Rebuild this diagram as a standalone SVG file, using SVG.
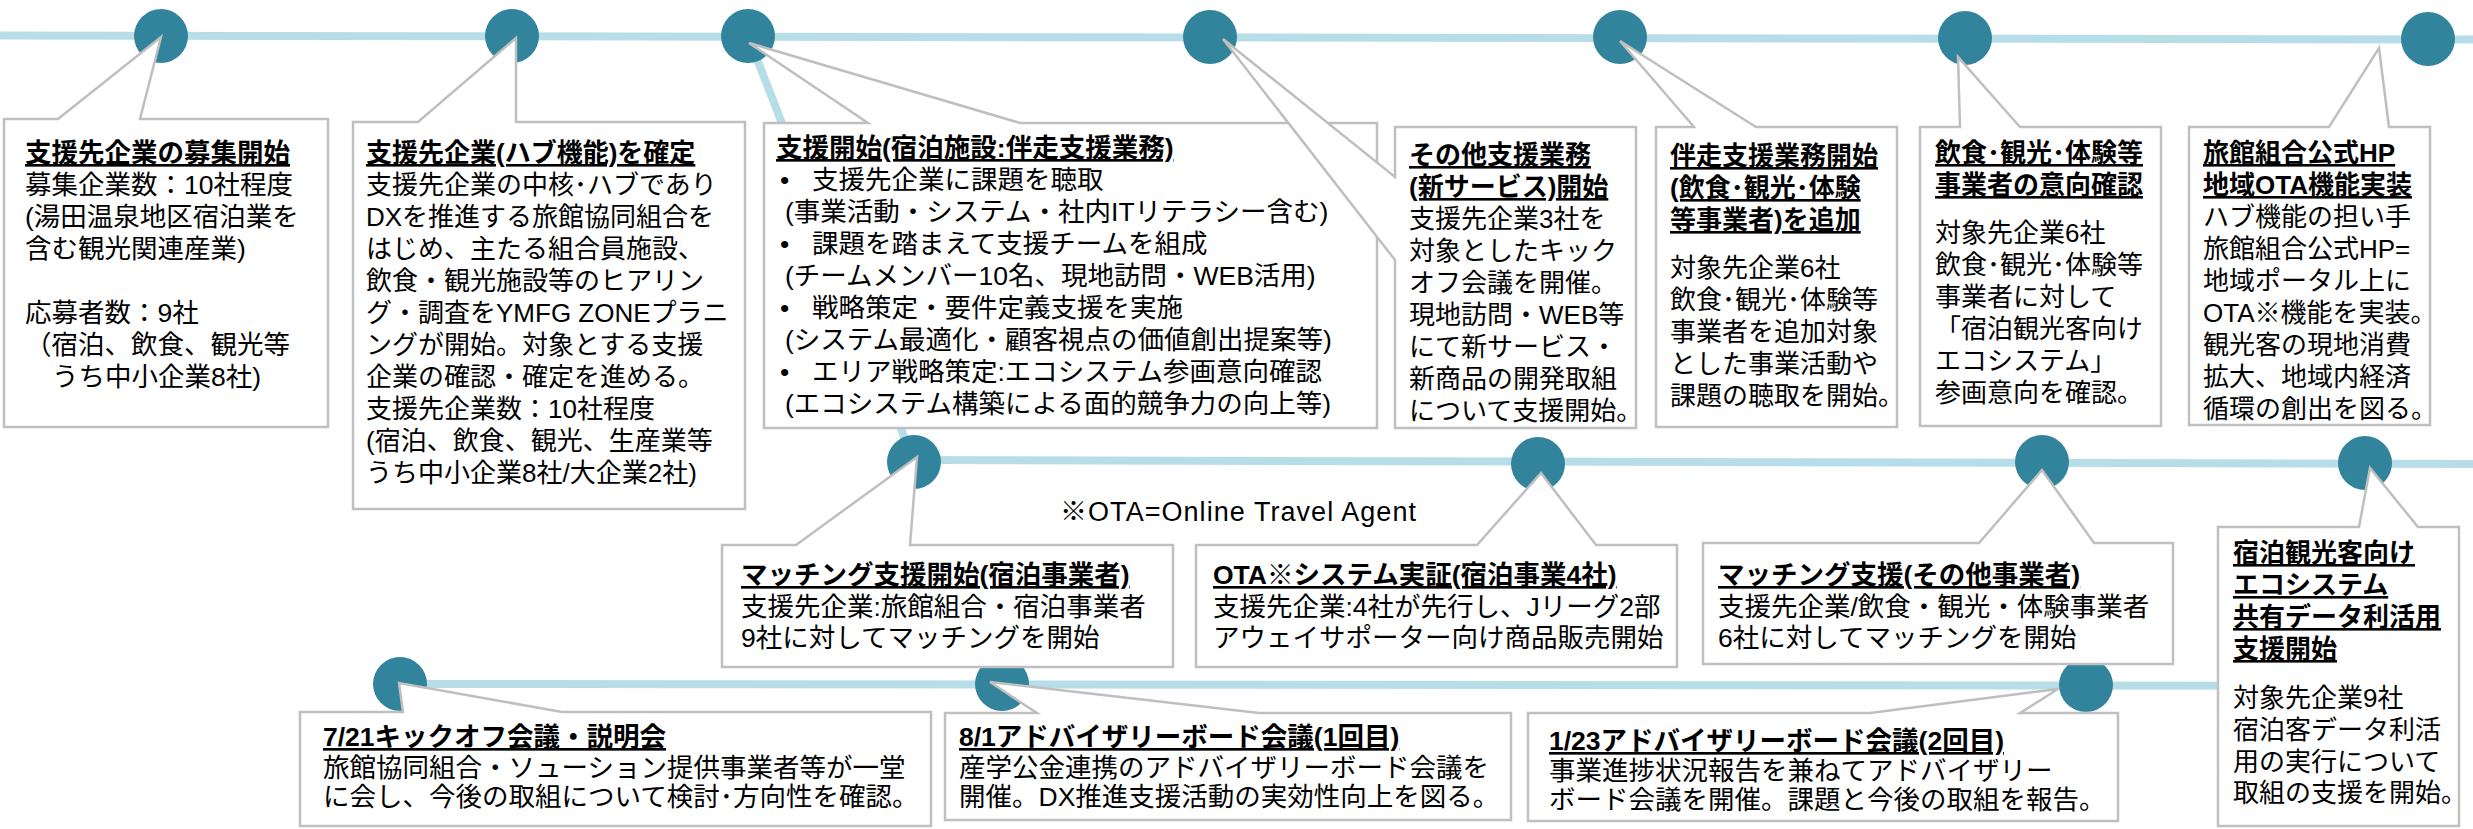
<svg xmlns="http://www.w3.org/2000/svg" width="2473" height="829" viewBox="0 0 2473 829">
<style>
.ln{stroke:#B7DEE8;stroke-width:8;fill:none}
.dot{fill:#31849B}
.co{fill:#FFFFFF;stroke:#BFBFBF;stroke-width:2.5;stroke-linejoin:miter}
text{font-family:"Liberation Sans","Noto Sans CJK JP",sans-serif;font-size:26px;fill:#000}
.big{font-size:26.5px}
.h{font-weight:700;text-decoration:underline}
</style>
<rect width="2473" height="829" fill="#FFFFFF"/>
<g id="connectors">
<line class="ln" x1="0" y1="35.5" x2="2473" y2="39.5"/>
<line class="ln" x1="748" y1="36" x2="914" y2="462"/>
<line class="ln" x1="914" y1="460" x2="2473" y2="464"/>
<line class="ln" x1="400" y1="684" x2="2459" y2="686"/>
</g>
<g id="milestones">
<circle class="dot" cx="161" cy="36" r="27"/>
<circle class="dot" cx="512" cy="36" r="27"/>
<circle class="dot" cx="748" cy="36" r="27"/>
<circle class="dot" cx="1210" cy="37" r="27"/>
<circle class="dot" cx="1620" cy="37" r="27"/>
<circle class="dot" cx="1965" cy="38" r="27"/>
<circle class="dot" cx="2428" cy="39" r="27"/>
<circle class="dot" cx="914" cy="462" r="27"/>
<circle class="dot" cx="1538" cy="464" r="27"/>
<circle class="dot" cx="2042" cy="462" r="27"/>
<circle class="dot" cx="2365" cy="463" r="27"/>
<circle class="dot" cx="400" cy="684" r="27"/>
<circle class="dot" cx="1002" cy="684" r="27"/>
<circle class="dot" cx="2086" cy="685" r="27"/>
</g>
<g id="n1">
<path class="co" d="M4,119 H58 L161,37 L140,119 H328 V427 H4 Z"/>
<text class="big"><tspan x="25" y="162" class="h">支援先企業の募集開始</tspan><tspan x="25" y="194">募集企業数：10社程度</tspan><tspan x="25" y="226">(湯田温泉地区宿泊業を</tspan><tspan x="25" y="258">含む観光関連産業)</tspan><tspan x="25" y="322">応募者数：9社</tspan><tspan x="25" y="354">（宿泊、飲食、観光等</tspan><tspan x="52" y="386">うち中小企業8社)</tspan></text>
</g>
<g id="n2">
<path class="co" d="M353,122 H418 L516,38 L516,122 H745 V509 H353 Z"/>
<text><tspan x="366" y="162" class="h">支援先企業(ハブ機能)を確定</tspan><tspan x="366" y="194">支援先企業の中核･ハブであり</tspan><tspan x="366" y="226">DXを推進する旅館協同組合を</tspan><tspan x="366" y="258">はじめ、主たる組合員施設、</tspan><tspan x="366" y="290">飲食・観光施設等のヒアリン</tspan><tspan x="366" y="322">グ・調査をYMFG ZONEプラニ</tspan><tspan x="366" y="354">ングが開始。対象とする支援</tspan><tspan x="366" y="386">企業の確認・確定を進める。</tspan><tspan x="366" y="418">支援先企業数：10社程度</tspan><tspan x="366" y="450">(宿泊、飲食、観光、生産業等</tspan><tspan x="366" y="482">うち中小企業8社/大企業2社)</tspan></text>
</g>
<g id="n3">
<path class="co" d="M764,123 H868 L749,43 L1020,123 H1377 V428 H764 Z"/>
<text class="big"><tspan x="776" y="157" class="h">支援開始(宿泊施設:伴走支援業務)</tspan><tspan x="780" y="189">•</tspan><tspan x="812" y="189">支援先企業に課題を聴取</tspan><tspan x="785" y="221">(事業活動・システム・社内ITリテラシー含む)</tspan><tspan x="780" y="253">•</tspan><tspan x="812" y="253">課題を踏まえて支援チームを組成</tspan><tspan x="785" y="285">(チームメンバー10名、現地訪問・WEB活用)</tspan><tspan x="780" y="317">•</tspan><tspan x="812" y="317">戦略策定・要件定義支援を実施</tspan><tspan x="785" y="349">(システム最適化・顧客視点の価値創出提案等)</tspan><tspan x="780" y="381">•</tspan><tspan x="812" y="381">エリア戦略策定:エコシステム参画意向確認</tspan><tspan x="785" y="413">(エコシステム構築による面的競争力の向上等)</tspan></text>
</g>
<g id="n4">
<path class="co" d="M1395,127 H1636 V428 H1395 V260 L1223,39 L1395,177 Z"/>
<text><tspan x="1409" y="164" class="h">その他支援業務</tspan><tspan x="1409" y="196" class="h">(新サービス)開始</tspan><tspan x="1409" y="228">支援先企業3社を</tspan><tspan x="1409" y="260">対象としたキック</tspan><tspan x="1409" y="292">オフ会議を開催。</tspan><tspan x="1409" y="324">現地訪問・WEB等</tspan><tspan x="1409" y="356">にて新サービス・</tspan><tspan x="1409" y="388">新商品の開発取組</tspan><tspan x="1409" y="420">について支援開始。</tspan></text>
</g>
<g id="n5">
<path class="co" d="M1656,127 H1694 L1620,41 L1756,127 H1897 V427 H1656 Z"/>
<text><tspan x="1670" y="165" class="h">伴走支援業務開始</tspan><tspan x="1670" y="197" class="h">(飲食･観光･体験</tspan><tspan x="1670" y="229" class="h">等事業者)を追加</tspan><tspan x="1670" y="277">対象先企業6社</tspan><tspan x="1670" y="309">飲食･観光･体験等</tspan><tspan x="1670" y="341">事業者を追加対象</tspan><tspan x="1670" y="373">とした事業活動や</tspan><tspan x="1670" y="405">課題の聴取を開始。</tspan></text>
</g>
<g id="n6">
<path class="co" d="M1920,127 H1960 L1958,57 L2020,127 H2161 V426 H1920 Z"/>
<text><tspan x="1935" y="162" class="h">飲食･観光･体験等</tspan><tspan x="1935" y="194" class="h">事業者の意向確認</tspan><tspan x="1935" y="242">対象先企業6社</tspan><tspan x="1935" y="274">飲食･観光･体験等</tspan><tspan x="1935" y="306">事業者に対して</tspan><tspan x="1935" y="338">「宿泊観光客向け</tspan><tspan x="1935" y="370">エコシステム」</tspan><tspan x="1935" y="402">参画意向を確認。</tspan></text>
</g>
<g id="n7">
<path class="co" d="M2189,127 H2329 L2379,48 L2389,127 H2430 V425 H2189 Z"/>
<text><tspan x="2203" y="162" class="h">旅館組合公式HP</tspan><tspan x="2203" y="194" class="h">地域OTA機能実装</tspan><tspan x="2203" y="226">ハブ機能の担い手</tspan><tspan x="2203" y="258">旅館組合公式HP=</tspan><tspan x="2203" y="290">地域ポータル上に</tspan><tspan x="2203" y="322">OTA※機能を実装。</tspan><tspan x="2203" y="354">観光客の現地消費</tspan><tspan x="2203" y="386">拡大、地域内経済</tspan><tspan x="2203" y="418">循環の創出を図る。</tspan></text>
</g>
<g id="n8">
<path class="co" d="M722,545 H796 L917,457 L910,545 H1173 V667 H722 Z"/>
<text class="big"><tspan x="741" y="584" class="h">マッチング支援開始(宿泊事業者)</tspan><tspan x="741" y="616">支援先企業:旅館組合・宿泊事業者</tspan><tspan x="741" y="647">9社に対してマッチングを開始</tspan></text>
</g>
<g id="n9">
<path class="co" d="M1196,545 H1477 L1541,473 L1596,545 H1677 V667 H1196 Z"/>
<text class="big"><tspan x="1213" y="584" class="h">OTA※システム実証(宿泊事業4社)</tspan><tspan x="1213" y="616">支援先企業:4社が先行し、Jリーグ2部</tspan><tspan x="1213" y="647">アウェイサポーター向け商品販売開始</tspan></text>
</g>
<g id="n10">
<path class="co" d="M1703,543 H1979 L2042,470 L2094,543 H2173 V664 H1703 Z"/>
<text class="big"><tspan x="1718" y="584" class="h">マッチング支援(その他事業者)</tspan><tspan x="1718" y="616">支援先企業/飲食・観光・体験事業者</tspan><tspan x="1718" y="647">6社に対してマッチングを開始</tspan></text>
</g>
<g id="n11">
<path class="co" d="M2218,527 H2359 L2370,468 L2418,527 H2459 V826 H2218 Z"/>
<text><tspan x="2233" y="562" class="h">宿泊観光客向け</tspan><tspan x="2233" y="594" class="h">エコシステム</tspan><tspan x="2233" y="626" class="h">共有データ利活用</tspan><tspan x="2233" y="658" class="h">支援開始</tspan><tspan x="2233" y="707">対象先企業9社</tspan><tspan x="2233" y="739">宿泊客データ利活</tspan><tspan x="2233" y="771">用の実行について</tspan><tspan x="2233" y="802">取組の支援を開始。</tspan></text>
</g>
<g id="n12">
<path class="co" d="M300,712 H403 L399,683 L562,712 H931 V826 H300 Z"/>
<text class="big"><tspan x="323" y="746" class="h">7/21キックオフ会議・説明会</tspan><tspan x="323" y="777">旅館協同組合・ソューション提供事業者等が一堂</tspan><tspan x="323" y="806">に会し、今後の取組について検討･方向性を確認。</tspan></text>
</g>
<g id="n13">
<path class="co" d="M945,713 H1037 L990,682 L1259,713 H1511 V820 H945 Z"/>
<text class="big"><tspan x="959" y="746" class="h">8/1アドバイザリーボード会議(1回目)</tspan><tspan x="959" y="777">産学公金連携のアドバイザリーボード会議を</tspan><tspan x="959" y="806">開催。DX推進支援活動の実効性向上を図る。</tspan></text>
</g>
<g id="n14">
<path class="co" d="M1528,713 H1870 L2058,689 L2020,713 H2118 V821 H1528 Z"/>
<text class="big"><tspan x="1549" y="750" class="h">1/23アドバイザリーボード会議(2回目)</tspan><tspan x="1549" y="780">事業進捗状況報告を兼ねてアドバイザリー</tspan><tspan x="1549" y="809">ボード会議を開催。課題と今後の取組を報告。</tspan></text>
</g>
<g id="note">
<text x="1060" y="521" style="font-size:27px" textLength="356">※OTA=Online Travel Agent</text>
</g>
</svg>
